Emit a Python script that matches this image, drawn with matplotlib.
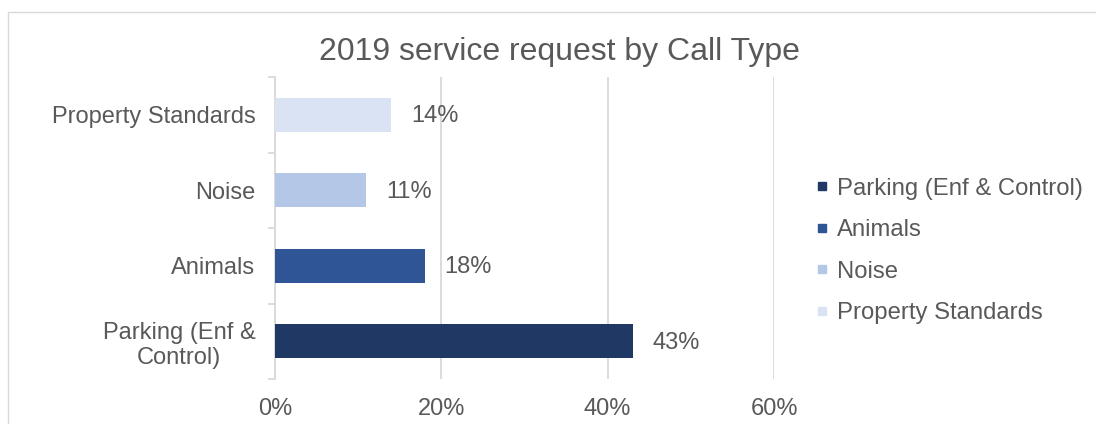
import matplotlib.pyplot as plt
from matplotlib.lines import Line2D
from matplotlib.patches import Rectangle
from matplotlib.ticker import FuncFormatter

plt.rcParams['font.family'] = ['Liberation Sans', 'DejaVu Sans']

categories = ['Parking (Enf &\nControl)', 'Animals', 'Noise', 'Property Standards']
legend_names = ['Parking (Enf & Control)', 'Animals', 'Noise', 'Property Standards']
shares = [0.43, 0.18, 0.11, 0.14]
colors = ['#203864', '#2F5597', '#B4C7E7', '#DAE3F3']
x_ticks = [0, 0.2, 0.4, 0.6]

text_col = '#595959'
grid_col = '#D9D9D9'

fig = plt.figure(figsize=(10.96, 4.24), dpi=100)
ax = fig.add_axes([275 / 1096, 1 - 379 / 424, (774 - 275) / 1096, (379 - 77) / 424])

# chart frame (runs off the right and bottom edges)
fig.patches.append(Rectangle((8 / 1096, -0.2), 1.2, 1.2 - 12 / 424,
                             transform=fig.transFigure, fill=False,
                             edgecolor=grid_col, linewidth=1))

ypos = range(len(categories))
ax.barh(ypos, shares, height=0.45, color=colors, zorder=3)
for y, v in zip(ypos, shares):
    ax.annotate(f'{v:.0%}', (v, y), xytext=(14, -1), textcoords='offset points',
                va='center', ha='left', fontsize=17, color=text_col)

ax.set_xlim(0, 0.6)
ax.set_ylim(-0.5, len(categories) - 0.5)
ax.set_xticks(x_ticks)
ax.xaxis.set_major_formatter(FuncFormatter(lambda v, p: f'{v:.0%}'))
ax.grid(axis='x', color=grid_col, linewidth=1.3, zorder=0)
ax.tick_params(axis='x', length=0, pad=14, labelsize=17, labelcolor=text_col)

ax.set_yticks(list(ypos))
ax.set_yticklabels(categories, multialignment='center')
ax.set_yticks([i - 0.5 for i in range(len(categories) + 1)], minor=True)
ax.tick_params(axis='y', which='major', length=0, pad=14, labelsize=17, labelcolor=text_col)
ax.tick_params(axis='y', which='minor', length=5, color=grid_col, width=1.3)

for s in ['top', 'right', 'bottom']:
    ax.spines[s].set_visible(False)
ax.spines['left'].set_color(grid_col)
ax.spines['left'].set_linewidth(1.3)

fig.text(559 / 1096, 1 - 52 / 424, '2019 service request by Call Type',
         ha='center', va='center', fontsize=23, color=text_col)

handles = [Line2D([], [], marker='s', linestyle='none', markersize=6,
                  markerfacecolor=c, markeredgecolor=c) for c in colors]
fig.legend(handles, legend_names, loc='center left',
           bbox_to_anchor=(805 / 1096, 1 - 251 / 424), frameon=False,
           fontsize=17.2, labelcolor=text_col, handlelength=0.6, handletextpad=0.33,
           labelspacing=0.82, borderaxespad=0)

fig.savefig('out.png', dpi=100)
